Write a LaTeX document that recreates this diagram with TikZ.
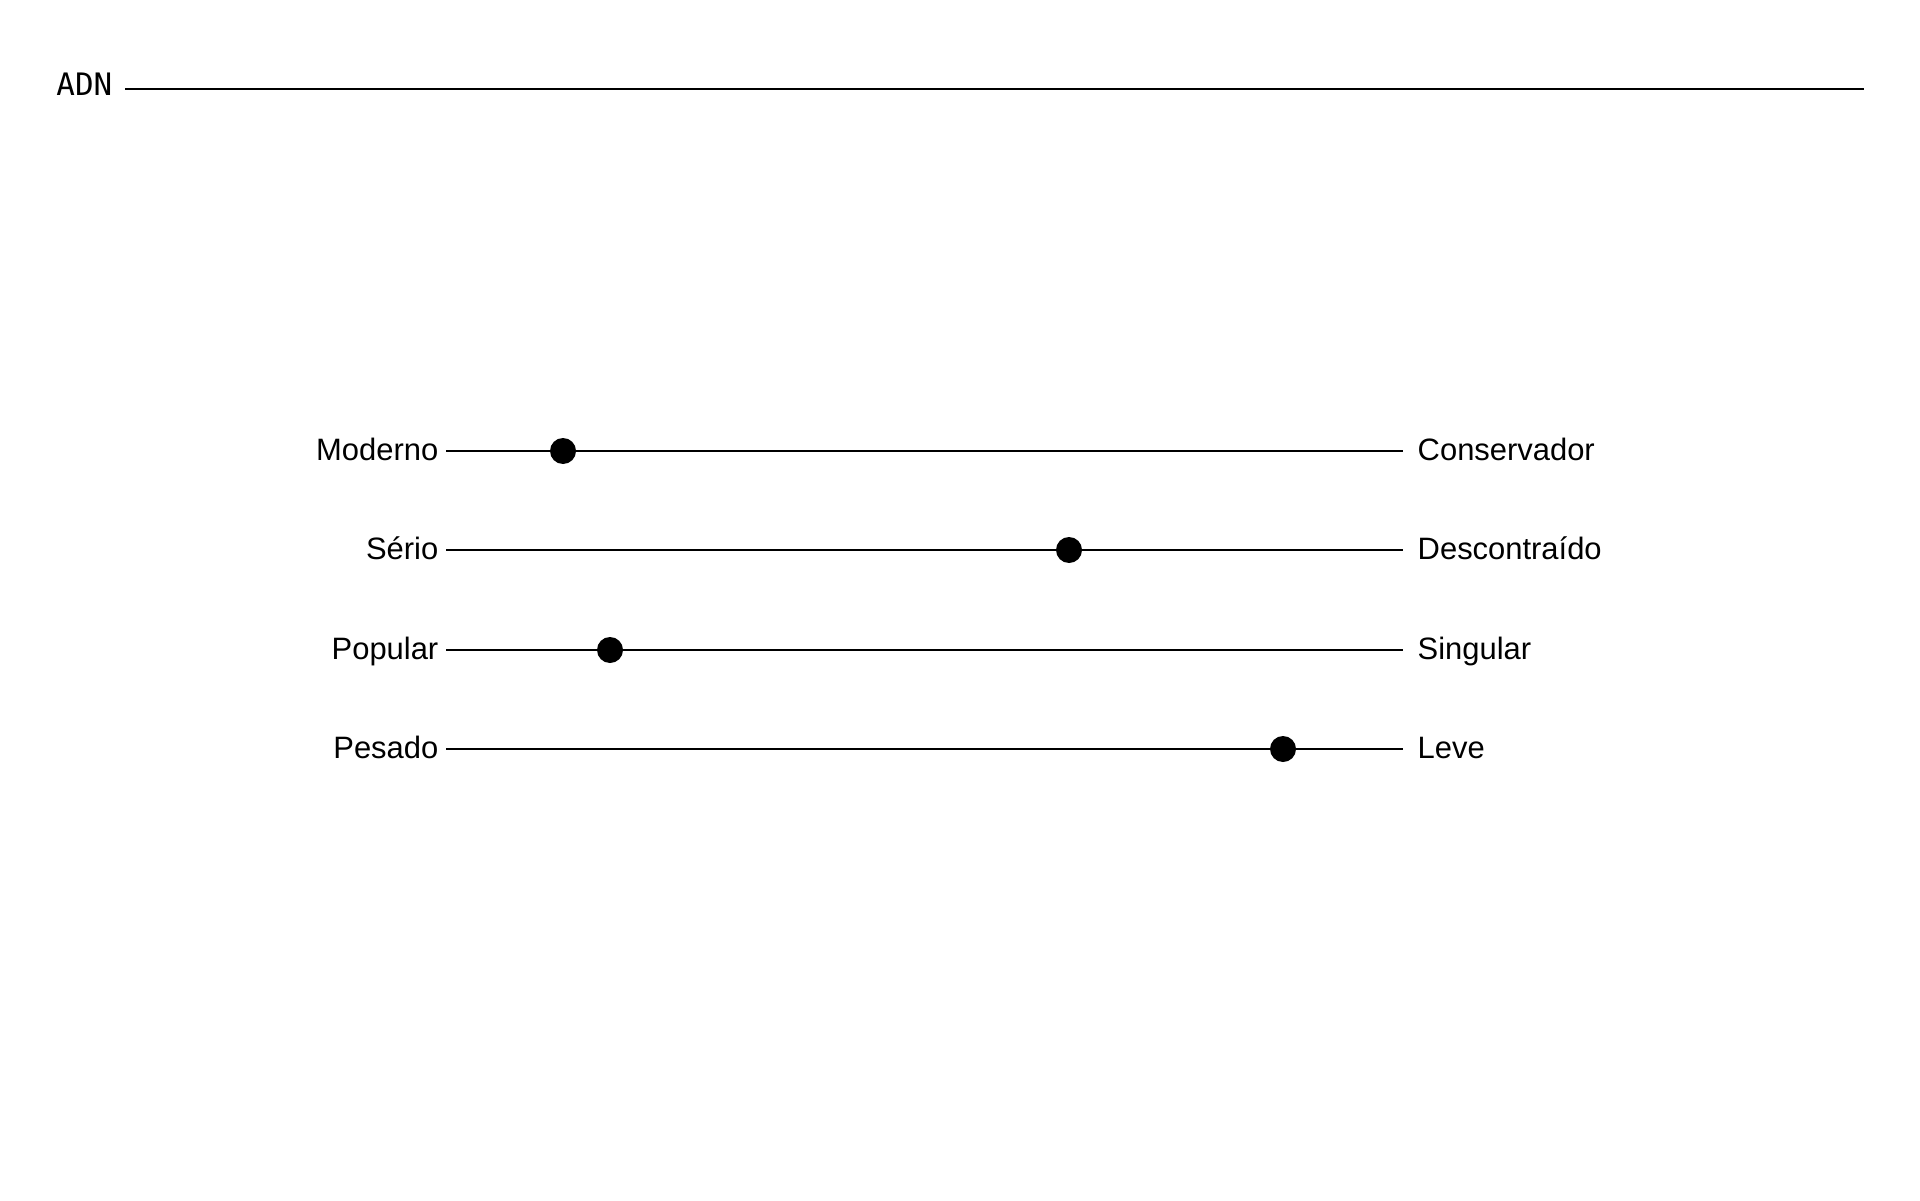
\documentclass[tikz,border=0pt]{standalone}
\usepackage{fontspec}
\setmainfont{Liberation Sans}
\newfontfamily\adnfont{DejaVu Sans Mono}
\usetikzlibrary{positioning}

\begin{document}
\begin{tikzpicture}[
  font=\fontsize{8.8}{11}\selectfont,
  lbl/.style={inner sep=0pt},
  rule/.style={line width=0.6pt},
  dot/.style={circle, fill=black, inner sep=0pt, minimum size=2.6mm}
]
\useasboundingbox (0,0) rectangle (19.2,12);

% title
\node[anchor=base east, inner xsep=1.2mm, inner ysep=0pt, font=\adnfont\fontsize{8.8}{11}\selectfont] (adn) at (1.25,11.04) {ADN};
\coordinate (adnEnd) at (18.64,11.11);
\draw[line width=0.5pt] (adn.east |- adnEnd) -- (adnEnd);

% scale ends
\coordinate (s1) at (4.46,7.49);  \coordinate (e1) at (14.03,7.49);
\coordinate (s2) at (4.46,6.50);  \coordinate (e2) at (14.03,6.50);
\coordinate (s3) at (4.46,5.50);  \coordinate (e3) at (14.03,5.50);
\coordinate (s4) at (4.46,4.51);  \coordinate (e4) at (14.03,4.51);

\node[lbl, left=0.7mm of s1, anchor=mid east] (moderno) {Moderno};
\node[lbl, right=1.4mm of e1, anchor=mid west] (conservador) {Conservador};
\node[lbl, left=0.7mm of s2, anchor=mid east] (serio) {Sério};
\node[lbl, right=1.4mm of e2, anchor=mid west] (descontraido) {Descontraído};
\node[lbl, left=0.7mm of s3, anchor=mid east] (popular) {Popular};
\node[lbl, right=1.4mm of e3, anchor=mid west] (singular) {Singular};
\node[lbl, left=0.7mm of s4, anchor=mid east] (pesado) {Pesado};
\node[lbl, right=1.4mm of e4, anchor=mid west] (leve) {Leve};

\draw[rule] (s1) -- (e1);
\draw[rule] (s2) -- (e2);
\draw[rule] (s3) -- (e3);
\draw[rule] (s4) -- (e4);

% markers
\node[dot] (d1) at (5.63,7.49) {};
\node[dot] (d2) at (10.69,6.50) {};
\node[dot] (d3) at (6.10,5.50) {};
\node[dot] (d4) at (12.83,4.51) {};

\end{tikzpicture}
\end{document}
